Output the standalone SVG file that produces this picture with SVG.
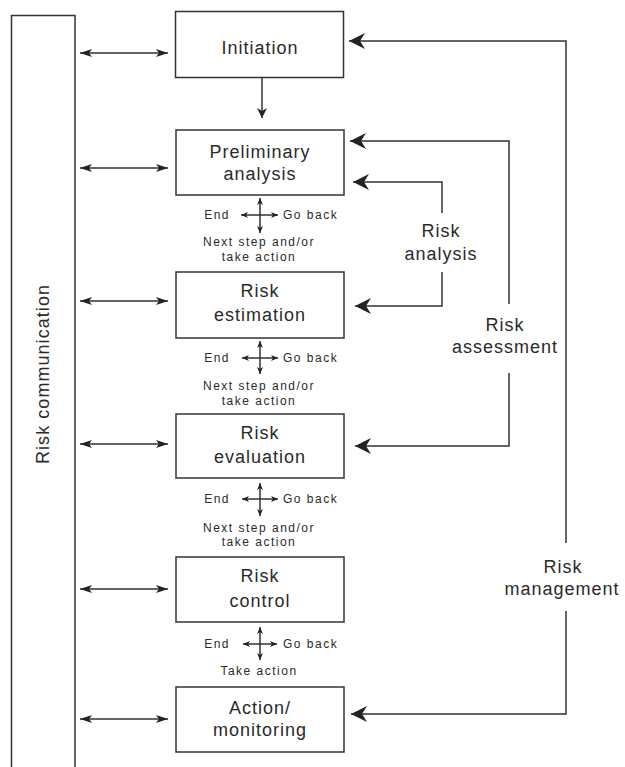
<svg xmlns="http://www.w3.org/2000/svg" width="625" height="767" viewBox="0 0 625 767">
<style>
.box{fill:#fff;stroke:#333;stroke-width:1.5}
.ln{fill:none;stroke:#333;stroke-width:1.5}
.big{font-family:"Liberation Sans",Arial,sans-serif;font-size:18px;letter-spacing:1px;fill:#2a2a2a;text-anchor:middle}
.sm{font-family:"Liberation Sans",Arial,sans-serif;font-size:12px;letter-spacing:1.5px;fill:#2a2a2a}
.mid{text-anchor:middle}
.end{text-anchor:end}
</style>
<defs>
<marker id="aBig" viewBox="0 0 16 16" refX="16" refY="8" markerWidth="16" markerHeight="16" markerUnits="userSpaceOnUse" orient="auto">
<path d="M0,0 L16,8 L0,16 L5,8 z" fill="#222"/>
</marker>
<marker id="aMed" viewBox="0 0 12 8" refX="12" refY="4" markerWidth="12" markerHeight="8" markerUnits="userSpaceOnUse" orient="auto-start-reverse">
<path d="M0,0 L12,4 L0,8 L3,4 z" fill="#222"/>
</marker>
<marker id="aDown" viewBox="0 0 10 10" refX="10" refY="5" markerWidth="10" markerHeight="10" markerUnits="userSpaceOnUse" orient="auto">
<path d="M0,0 L10,5 L0,10 L3,5 z" fill="#222"/>
</marker>
<marker id="aSm" viewBox="0 0 7 6" refX="7" refY="3" markerWidth="7" markerHeight="6" markerUnits="userSpaceOnUse" orient="auto-start-reverse">
<path d="M0,0 L7,3 L0,6 L2,3 z" fill="#222"/>
</marker>
</defs>

<g id="risk-communication">
<path class="ln" d="M11.5,780 V15.5 H75 V780"/>
<text class="big" transform="translate(49,374) rotate(-90)" textLength="180" lengthAdjust="spacing">Risk communication</text>
</g>

<g id="initiation">
<rect class="box" x="175.5" y="11.5" width="168" height="66"/>
<text class="big" x="260" y="54">Initiation</text>
</g>
<g id="preliminary-analysis">
<rect class="box" x="176" y="130" width="168" height="65"/>
<text class="big" x="260" y="158">Preliminary</text>
<text class="big" x="260" y="180">analysis</text>
</g>
<g id="risk-estimation">
<rect class="box" x="176" y="272" width="168" height="66"/>
<text class="big" x="260" y="297">Risk</text>
<text class="big" x="260" y="321">estimation</text>
</g>
<g id="risk-evaluation">
<rect class="box" x="176" y="414" width="168" height="64"/>
<text class="big" x="260" y="439">Risk</text>
<text class="big" x="260" y="463">evaluation</text>
</g>
<g id="risk-control">
<rect class="box" x="176" y="557" width="168" height="65"/>
<text class="big" x="260" y="582">Risk</text>
<text class="big" x="260" y="607">control</text>
</g>
<g id="action-monitoring">
<rect class="box" x="176" y="687" width="168" height="65"/>
<text class="big" x="260" y="714">Action/</text>
<text class="big" x="260" y="736">monitoring</text>
</g>

<g id="step-options">
<text class="sm end" x="230" y="219">End</text>
<text class="sm" x="283" y="219">Go back</text>
<text class="sm mid" x="259" y="246">Next step and/or</text>
<text class="sm mid" x="259" y="261">take action</text>

<text class="sm end" x="230" y="362">End</text>
<text class="sm" x="283" y="362">Go back</text>
<text class="sm mid" x="259" y="390">Next step and/or</text>
<text class="sm mid" x="259" y="405">take action</text>

<text class="sm end" x="230" y="503">End</text>
<text class="sm" x="283" y="503">Go back</text>
<text class="sm mid" x="259" y="532">Next step and/or</text>
<text class="sm mid" x="259" y="546">take action</text>

<text class="sm end" x="230" y="648">End</text>
<text class="sm" x="283" y="648">Go back</text>
<text class="sm mid" x="259" y="675">Take action</text>
</g>

<g id="loop-labels">
<text class="big" x="441" y="237">Risk</text>
<text class="big" x="441" y="260">analysis</text>
<text class="big" x="505" y="331">Risk</text>
<text class="big" x="505" y="353">assessment</text>
<text class="big" x="563" y="573">Risk</text>
<text class="big" x="562" y="595">management</text>
</g>

<g id="connectors">
<line class="ln" x1="80" y1="53" x2="168" y2="53" marker-start="url(#aMed)" marker-end="url(#aMed)"/>
<line class="ln" x1="80" y1="168" x2="168" y2="168" marker-start="url(#aMed)" marker-end="url(#aMed)"/>
<line class="ln" x1="80" y1="301" x2="168" y2="301" marker-start="url(#aMed)" marker-end="url(#aMed)"/>
<line class="ln" x1="80" y1="444" x2="168" y2="444" marker-start="url(#aMed)" marker-end="url(#aMed)"/>
<line class="ln" x1="80" y1="589" x2="168" y2="589" marker-start="url(#aMed)" marker-end="url(#aMed)"/>
<line class="ln" x1="80" y1="719" x2="168" y2="719" marker-start="url(#aMed)" marker-end="url(#aMed)"/>

<line class="ln" x1="262" y1="78" x2="262" y2="118" marker-end="url(#aDown)"/>

<line class="ln" x1="260" y1="198" x2="260" y2="233" marker-start="url(#aSm)" marker-end="url(#aSm)"/>
<line class="ln" x1="241" y1="215" x2="278" y2="215" marker-start="url(#aSm)" marker-end="url(#aSm)"/>
<line class="ln" x1="260" y1="341" x2="260" y2="374" marker-start="url(#aSm)" marker-end="url(#aSm)"/>
<line class="ln" x1="242" y1="358" x2="278" y2="358" marker-start="url(#aSm)" marker-end="url(#aSm)"/>
<line class="ln" x1="260" y1="483" x2="260" y2="516" marker-start="url(#aSm)" marker-end="url(#aSm)"/>
<line class="ln" x1="242" y1="499" x2="278" y2="499" marker-start="url(#aSm)" marker-end="url(#aSm)"/>
<line class="ln" x1="260" y1="627" x2="260" y2="660" marker-start="url(#aSm)" marker-end="url(#aSm)"/>
<line class="ln" x1="243" y1="644" x2="277" y2="644" marker-start="url(#aSm)" marker-end="url(#aSm)"/>

<path class="ln" d="M442,213 V182 H353" marker-end="url(#aBig)"/>
<path class="ln" d="M442,272 V306 H355" marker-end="url(#aBig)"/>
<path class="ln" d="M509,304 V141 H350" marker-end="url(#aBig)"/>
<path class="ln" d="M509,373 V446 H355" marker-end="url(#aBig)"/>
<path class="ln" d="M566,543 V41 H349" marker-end="url(#aBig)"/>
<path class="ln" d="M566,611 V714 H351" marker-end="url(#aBig)"/>
</g>
</svg>
